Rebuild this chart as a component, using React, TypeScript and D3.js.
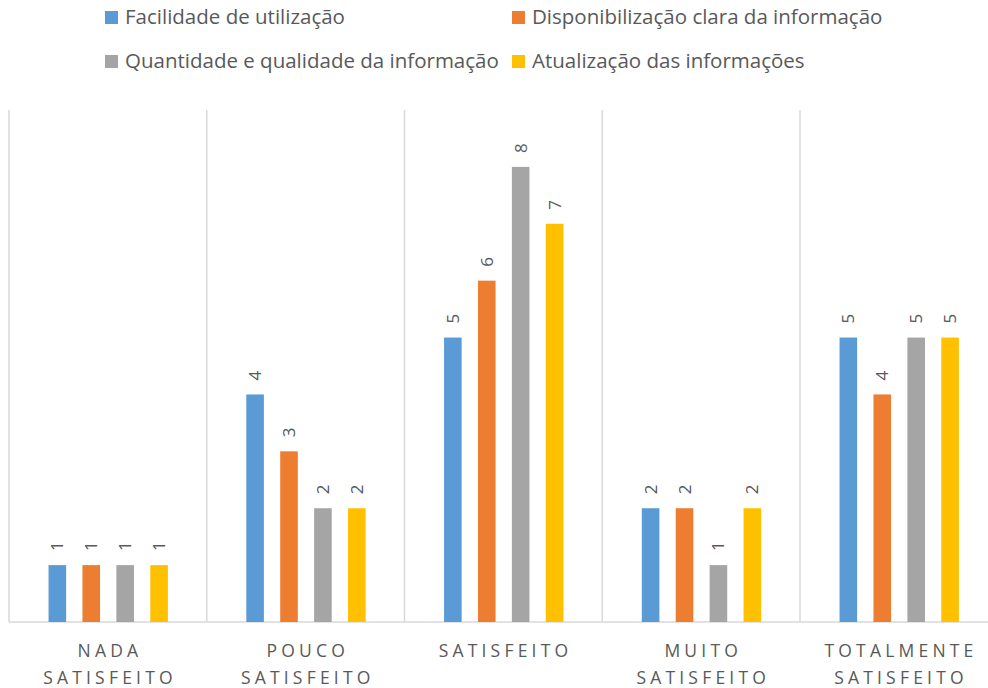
import React from "react";
import * as d3 from "d3";

const categories = [["NADA", "SATISFEITO"], ["POUCO", "SATISFEITO"], ["SATISFEITO"], ["MUITO", "SATISFEITO"], ["TOTALMENTE", "SATISFEITO"]];
const seriesNames = ["Facilidade de utilização", "Disponibilização clara da informação", "Quantidade e qualidade da informação", "Atualização das informações"];
const seriesColors = ["#5b9bd5", "#ed7d31", "#a5a5a5", "#ffc000"];
const facilidade = [1, 4, 5, 2, 5];
const disponibilizacao = [1, 3, 6, 2, 4];
const quantidade = [1, 2, 8, 1, 5];
const atualizacao = [1, 2, 7, 2, 5];
const seriesValues = [facilidade, disponibilizacao, quantidade, atualizacao];

const W = 988, H = 688;
const plotLeft = 9, plotRight = 997.75, plotTop = 110, plotBottom = 622;
const font = "'Open Sans', 'Noto Sans', sans-serif";
const textColor = "#595959";

export default function App() {
  const x = d3.scaleBand<number>().domain(d3.range(categories.length)).range([plotLeft, plotRight]).padding(0);
  const y = d3.scaleLinear().domain([0, 9]).range([plotBottom, plotTop]);
  const bw = x.bandwidth();
  const barW = bw * 0.089;
  const step = bw * 0.1715;
  const offset = bw * 0.2;
  const legendPos = [[105, 17.5], [512, 17.5], [105, 61.5], [512, 61.5]];
  return (
    <svg width={W} height={H} style={{ position: "absolute", left: 0, top: 0, background: "#fff" }}>
      <rect width={W} height={H} fill="#fff" />
      {d3.range(categories.length + 1).map(i => {
        const xx = plotLeft + i * bw;
        return <line key={"g" + i} x1={xx} x2={xx} y1={plotTop} y2={plotBottom} stroke="#d9d9d9" strokeWidth={1.5} />;
      })}
      <line x1={plotLeft} x2={plotRight} y1={plotBottom} y2={plotBottom} stroke="#d9d9d9" strokeWidth={1.5} />
      {seriesValues.map((vals, s) => vals.map((v, c) => {
        const bx = (x(c) as number) + offset + s * step;
        return (
          <g key={`b${s}-${c}`}>
            <rect x={bx} y={y(v)} width={barW} height={plotBottom - y(v)} fill={seriesColors[s]} />
            <text transform={`translate(${bx + barW / 2 + 6},${y(v) - 14}) rotate(-90)`} fontFamily={font} fontSize={17} fill={textColor}>{v}</text>
          </g>
        );
      }))}
      {categories.map((lines, c) => (
        <text key={"c" + c} textAnchor="middle" fontFamily={font} fontSize={17.5} fill={textColor} letterSpacing={4.2}>
          {lines.map((l, k) => (
            <tspan key={k} x={(x(c) as number) + bw / 2 + 2.1} y={657 + k * 27}>{l}</tspan>
          ))}
        </text>
      ))}
      {seriesNames.map((n, s) => (
        <g key={"l" + s} transform={`translate(${legendPos[s][0]},${legendPos[s][1]})`}>
          <rect x={0} y={-6.5} width={13} height={13} fill={seriesColors[s]} />
          <text x={20} y={6.8} fontFamily={font} fontSize={20.5} fill={textColor}>{n}</text>
        </g>
      ))}
    </svg>
  );
}
